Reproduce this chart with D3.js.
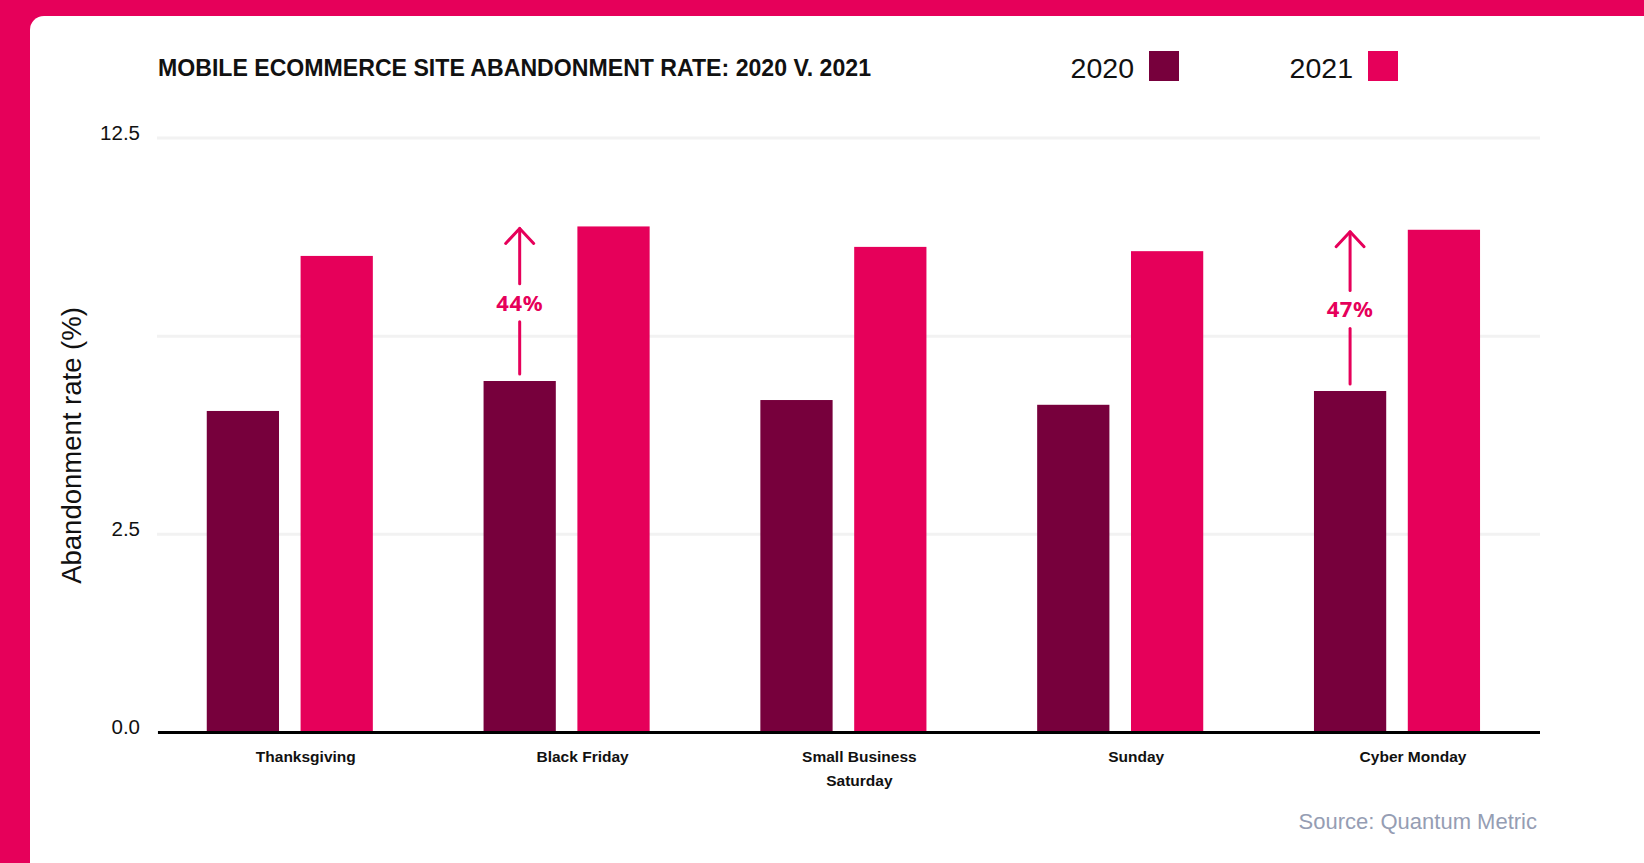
<!DOCTYPE html>
<html>
<head>
<meta charset="utf-8">
<script src="https://cdn.jsdelivr.net/npm/d3@7/dist/d3.min.js"></script>
<style>
  html, body { margin: 0; padding: 0; background: #e6005a; }
  svg { display: block; }
</style>
</head>
<body>
<script>
// Mobile ecommerce site abandonment rate, holiday shopping days
const categories = ["Thanksgiving", "Black Friday", "Small Business Saturday", "Sunday", "Cyber Monday"];
const categoryLines = [["Thanksgiving"], ["Black Friday"], ["Small Business", "Saturday"], ["Sunday"], ["Cyber Monday"]];
const seriesNames = ["2020", "2021"];
const values2020 = [6.75, 7.38, 6.98, 6.88, 7.17];
const values2021 = [10.01, 10.63, 10.20, 10.11, 10.56];
const yTickValues = [0, 12.5 / 3, 25 / 3, 12.5];
const yTickLabels = ["0.0", "2.5", "", "12.5"];
const changeCategories = ["Black Friday", "Cyber Monday"];
const changeLabels = ["44%", "47%"];

const W = 1644, H = 863;
const pink = "#e6005a", maroon = "#77003c";
const colors = { "2020": maroon, "2021": pink };

const svg = d3.select("body").append("svg").attr("width", W).attr("height", H);

// pink frame with white rounded card
svg.append("rect").attr("width", W).attr("height", H).attr("fill", pink);
svg.append("rect").attr("x", 30).attr("y", 16).attr("width", W + 40).attr("height", H + 40)
  .attr("rx", 14).attr("fill", "#fff");

const font = "'Liberation Sans', Arial, Helvetica, sans-serif";

const y = d3.scaleLinear().domain([0, 12.5]).range([732, 137.5]);
const x0 = d3.scaleBand().domain(categories).range([151.4, 1535.4]).paddingInner(0.4).paddingOuter(0.2);
const x1 = d3.scaleBand().domain(seriesNames).range([0, x0.bandwidth()]).paddingInner(0.23);

const gridLeft = 157, gridRight = 1540;

// gridlines and y tick labels
const yAxis = svg.append("g").attr("transform", `translate(${gridLeft},0)`)
  .call(d3.axisLeft(y).tickValues(yTickValues).tickSize(-(gridRight - gridLeft))
    .tickFormat((d, i) => yTickLabels[i]));
yAxis.select(".domain").remove();
yAxis.selectAll(".tick line").attr("stroke", "#f2f2f2").attr("stroke-width", 3);
yAxis.selectAll(".tick text").attr("x", -17).attr("dy", "0.08em")
  .attr("font-family", font).attr("font-size", 20.5).attr("fill", "#111");

// bars
const rows = categories.map((c, i) => ({ cat: c, vals: [values2020[i], values2021[i]] }));
const groups = svg.append("g").selectAll("g").data(rows).join("g")
  .attr("transform", d => `translate(${x0(d.cat)},0)`);
groups.selectAll("rect").data(d => d.vals.map((v, j) => ({ key: seriesNames[j], v })))
  .join("rect")
  .attr("x", d => x1(d.key))
  .attr("width", x1.bandwidth())
  .attr("y", d => y(d.v))
  .attr("height", d => y(0) - y(d.v))
  .attr("fill", d => colors[d.key]);

// baseline
svg.append("line").attr("x1", 158).attr("x2", gridRight)
  .attr("y1", y(0) + 0.5).attr("y2", y(0) + 0.5)
  .attr("stroke", "#000").attr("stroke-width", 3);

// category labels
const xl = svg.append("g");
categories.forEach((c, i) => {
  const cx = x0(c) + x0.bandwidth() / 2 + 16;
  const t = xl.append("text")
    .attr("x", cx)
    .attr("y", 761.5)
    .attr("text-anchor", "middle")
    .attr("font-family", font).attr("font-size", 15.5).attr("font-weight", "bold").attr("fill", "#111");
  categoryLines[i].forEach((ln, k) => {
    t.append("tspan").attr("x", cx).attr("dy", k === 0 ? 0 : 24).text(ln);
  });
});

// y axis title
svg.append("text")
  .attr("transform", "translate(81,445.5) rotate(-90)")
  .attr("text-anchor", "middle")
  .attr("font-family", font).attr("font-size", 27.5).attr("fill", "#111")
  .text("Abandonment rate (%)");

// title
svg.append("text").attr("x", 158).attr("y", 76)
  .attr("font-family", font).attr("font-size", 24).attr("font-weight", "bold").attr("fill", "#111")
  .attr("textLength", 713).attr("lengthAdjust", "spacingAndGlyphs")
  .text("MOBILE ECOMMERCE SITE ABANDONMENT RATE: 2020 V. 2021");

// legend
const legendEnds = [1134, 1353];
seriesNames.forEach((s, i) => {
  svg.append("text").attr("x", legendEnds[i]).attr("y", 78.3).attr("text-anchor", "end")
    .attr("font-family", font).attr("font-size", 28.5).attr("fill", "#111").text(s);
  svg.append("rect").attr("x", legendEnds[i] + 15).attr("y", 51).attr("width", 30).attr("height", 30)
    .attr("fill", colors[s]);
});

// year-over-year change arrows
const ann = svg.append("g").attr("stroke", pink).attr("stroke-width", 3)
  .attr("stroke-linecap", "round").attr("stroke-linejoin", "round").attr("fill", "none");
changeCategories.forEach((c, i) => {
  const idx = categories.indexOf(c);
  const cx = x0(c) + x1("2020") + x1.bandwidth() / 2;
  const top = y(values2021[idx]) + 2;
  const bottom = y(values2020[idx]) - 7;
  const mid = (top + bottom) / 2 + 1.5;
  ann.append("line").attr("x1", cx).attr("x2", cx).attr("y1", top).attr("y2", mid - 19);
  ann.append("line").attr("x1", cx).attr("x2", cx).attr("y1", mid + 19).attr("y2", bottom);
  ann.append("path").attr("d", `M${cx - 14},${top + 15}L${cx},${top}L${cx + 14},${top + 15}`);
  svg.append("text").attr("x", cx).attr("y", mid + 8)
    .attr("text-anchor", "middle")
    .attr("font-family", "'Noto Sans', 'Open Sans', sans-serif").attr("font-weight", "bold")
    .attr("font-size", 22).attr("letter-spacing", 0.6).attr("fill", pink)
    .text(changeLabels[i]);
});

// source
svg.append("text").attr("x", 1537).attr("y", 829.3).attr("text-anchor", "end")
  .attr("font-family", font).attr("font-size", 22).attr("fill", "#959db3")
  .text("Source: Quantum Metric");
</script>
</body>
</html>
